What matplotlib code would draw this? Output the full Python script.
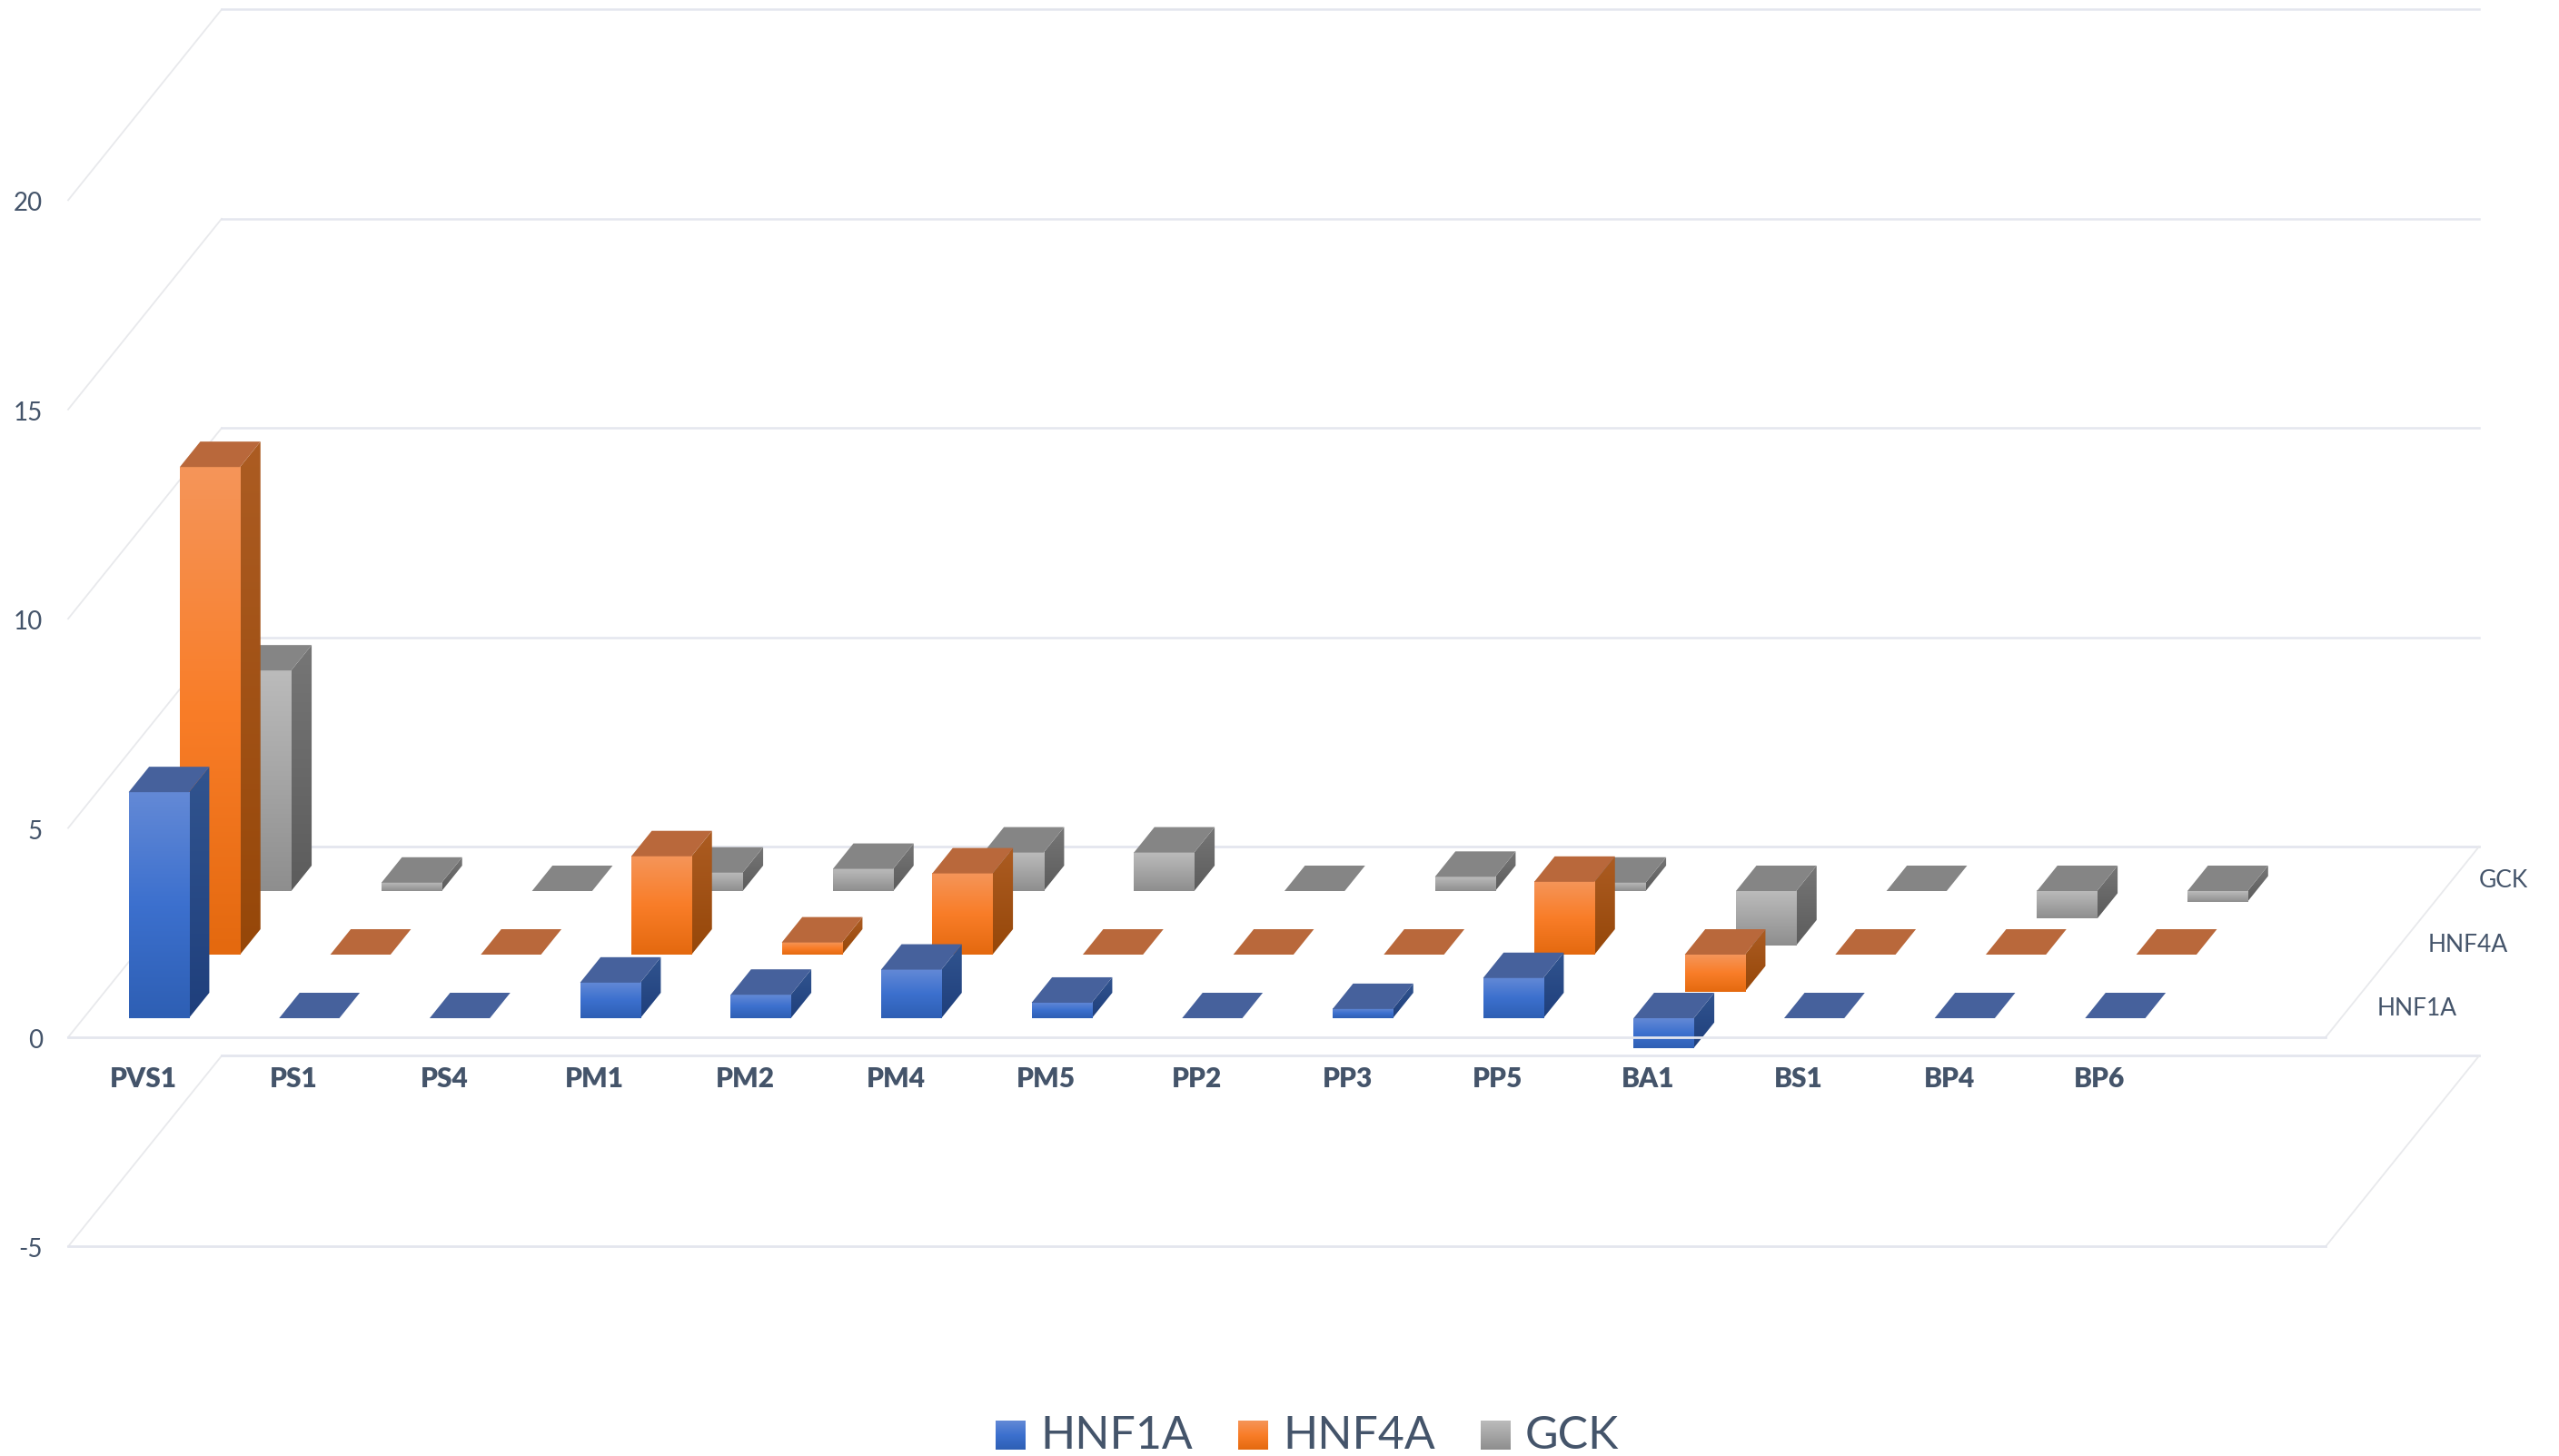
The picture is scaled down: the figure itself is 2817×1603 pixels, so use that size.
# plot.py - oblique 3D column chart, three gene series per ACMG criterion
import numpy as np
import matplotlib
matplotlib.use("Agg")
import matplotlib.pyplot as plt
from matplotlib.colors import LinearSegmentedColormap
from matplotlib.patches import Polygon

plt.rcParams['font.family'] = ['Lato', 'DejaVu Sans']

categories = ['PVS1', 'PS1', 'PS4', 'PM1', 'PM2', 'PM4', 'PM5', 'PP2', 'PP3', 'PP5', 'BA1', 'BS1', 'BP4', 'BP6']
series_names = ['HNF1A', 'HNF4A', 'GCK']
hnf1a = [5.4, 0, 0, 0.85, 0.56, 1.16, 0.37, 0, 0.22, 0.96, -0.71, 0, 0, 0]
hnf4a = [11.65, 0, 0, 2.35, 0.29, 1.94, 0, 0, 0, 1.74, -0.88, 0, 0, 0]
gck = [5.27, 0.2, 0, 0.44, 0.53, 0.92, 0.92, 0, 0.34, 0.2, -1.3, 0, -0.66, -0.25]
value_ticks = [-5, 0, 5, 10, 15, 20]

# face colours: front gradient (top to bottom), side gradient, top
front_cols = [['#6389D6', '#3C70CE', '#2E5FB4'], ['#F59559', '#F97D28', '#E4690F'], ['#BBBBBB', '#A5A5A5', '#8E8E8E']]
side_cols = [['#31548F', '#1F3F7C'], ['#AC5C22', '#964709'], ['#767676', '#5C5C5C']]
top_cols = ['#46619C', '#B9683B', '#858585']
text_col = '#44546A'
grid_col = '#E4E6EE'
wall_col = '#E8E9EC'

# layout, pixels of the output
W, H = 2817, 1603
X0, Y0 = 75.0, 1142.0      # where slot 0 / value 0 sit on the front edge
SLOT_PX = 165.67
UNIT_PX = 46.08
N_SLOTS = 15

# depth shear in data units (slots, values) for the whole floor
DEPTH_X = 169.0 / SLOT_PX
DEPTH_Y = 210.0 / UNIT_PX

fig = plt.figure(figsize=(W / 100, H / 100), dpi=100, facecolor='white')
ax = fig.add_axes([0, 0, 1, 1])
ax.set_xlim(-X0 / SLOT_PX, (W - X0) / SLOT_PX)
ax.set_ylim((Y0 - H) / UNIT_PX, Y0 / UNIT_PX)
ax.axis('off')


def pos(s, t, v):
    """slot, depth 0..1, value -> point in the axes"""
    return (s + DEPTH_X * t, v + DEPTH_Y * t)


def px(x, y):
    """output pixel -> axes data"""
    return ((x - X0) / SLOT_PX, (Y0 - y) / UNIT_PX)


def gradient(colors, extent, zorder, clip=None):
    cmap = LinearSegmentedColormap.from_list('g', colors)
    im = ax.imshow(np.linspace(0, 1, 128)[:, None], cmap=cmap, extent=extent, aspect='auto',
                   origin='upper', interpolation='bilinear', zorder=zorder)
    if clip is not None:
        clip.set_transform(ax.transData)
        im.set_clip_path(clip)
    return im


def draw_bar(i, k, value, z):
    s0, s1 = i + 0.3, i + 0.7
    t0, t1 = (k + 0.3) / 3, (k + 0.7) / 3
    hi, lo = max(value, 0), min(value, 0)
    if hi != lo:
        # side face
        side = Polygon([pos(s1, t0, lo), pos(s1, t1, lo), pos(s1, t1, hi), pos(s1, t0, hi)], closed=True)
        x_a, y_a = pos(s1, t0, lo)
        x_b, y_b = pos(s1, t1, hi)
        gradient(side_cols[k], (x_a, x_b, y_a, y_b), z, clip=side)
        # front face
        x_a, y_a = pos(s0, t0, lo)
        x_b, y_b = pos(s1, t0, hi)
        gradient(front_cols[k], (x_a, x_b, y_a, y_b), z + 1)
    top = Polygon([pos(s0, t0, hi), pos(s1, t0, hi), pos(s1, t1, hi), pos(s0, t1, hi)],
                  closed=True, facecolor=top_cols[k], edgecolor='none', zorder=z + 1)
    ax.add_patch(top)


# walls and floor
for v in value_ticks:
    ax.plot(*zip(pos(0, 0, v), pos(0, 1, v)), color=wall_col, lw=1.3, zorder=1)
    ax.text(*px(47, Y0 - v * UNIT_PX + 4), str(v), ha='right', va='center', color=text_col, fontsize=20, zorder=2)
    if v > 0:
        ax.plot(*zip(pos(0, 1, v), pos(N_SLOTS, 1, v)), color=grid_col, lw=1.8, zorder=1)

for v in [-5, 0]:
    ax.plot(*zip(pos(0, 1, v), pos(N_SLOTS, 1, v)), color=grid_col, lw=2, zorder=1)
    ax.plot(*zip(pos(N_SLOTS, 0, v), pos(N_SLOTS, 1, v)), color=wall_col, lw=1.3, zorder=1)
ax.plot(*zip(pos(0, 0, -5), pos(N_SLOTS, 0, -5)), color=grid_col, lw=2, zorder=1)

# bars, back row first so the nearer ones cover them
z = 10
all_series = [hnf1a, hnf4a, gck]
for k in [2, 1, 0]:
    for i, value in enumerate(all_series[k]):
        draw_bar(i, k, value, z)
        z += 2

# the front floor line runs over the bars
ax.plot(*zip(pos(0, 0, 0), pos(N_SLOTS, 0, 0)), color=grid_col, lw=2, zorder=z)

# category labels
for i, name in enumerate(categories):
    ax.text(i + 0.5, px(0, 1188)[1], name, ha='center', va='center', color=text_col,
            fontsize=21.5, fontweight='heavy', zorder=z)

# series labels at the end of the depth axis
for k, name in enumerate(series_names):
    x, y = pos(N_SLOTS, (k + 0.5) / 3, 0)
    ax.text(x + 28 / SLOT_PX, y - 3 / UNIT_PX, name, ha='left', va='center', color=text_col, fontsize=19, zorder=z)

# legend
leg_x = [1096, 1363, 1630]
for k, name in enumerate(series_names):
    x_a, y_a = px(leg_x[k], 1596)
    x_b, y_b = px(leg_x[k] + 33, 1564)
    gradient(front_cols[k], (x_a, x_b, y_a, y_b), z)
    tx, ty = px(leg_x[k] + 49, 1581)
    ax.text(tx, ty, name, ha='left', va='center', color=text_col, fontsize=36, zorder=z)

# imshow can move the limits
ax.set_xlim(-X0 / SLOT_PX, (W - X0) / SLOT_PX)
ax.set_ylim((Y0 - H) / UNIT_PX, Y0 / UNIT_PX)

fig.savefig('out.png', dpi=100, facecolor='white')
plt.close(fig)
